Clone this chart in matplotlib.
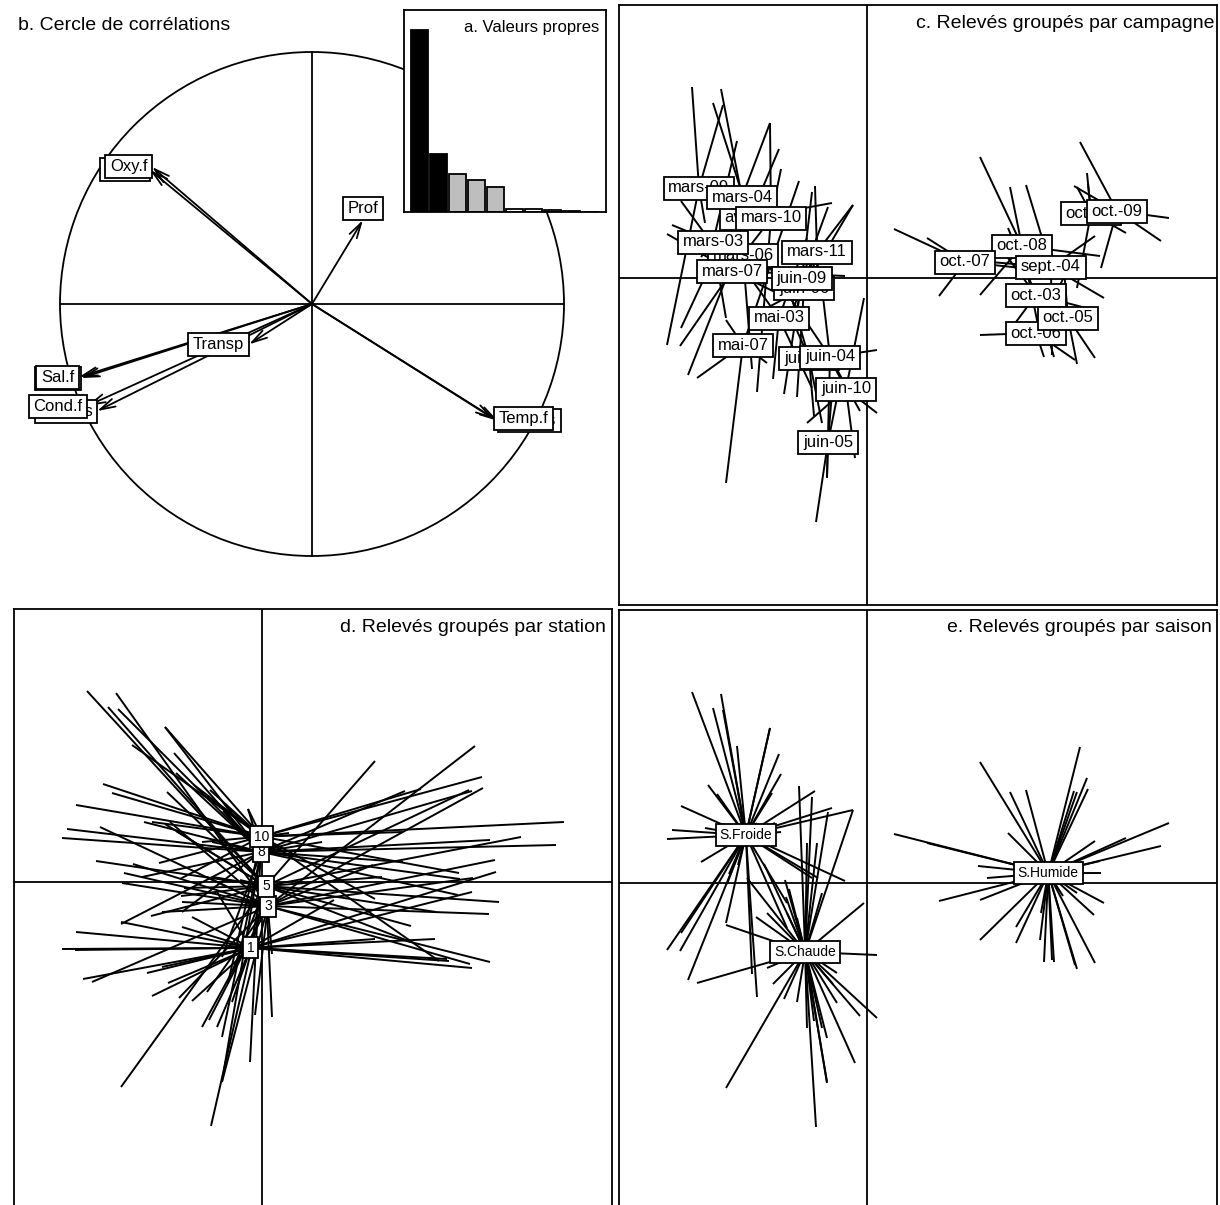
#!/usr/bin/env python3
"""
ACP des releves physico-chimiques : valeurs propres, cercle de correlations
et releves groupes par campagne, par station et par saison (style ade4)
"""

import matplotlib
matplotlib.use('Agg')
import matplotlib.pyplot as plt
from matplotlib.patches import Rectangle, Circle
from matplotlib.collections import LineCollection
import numpy as np

plt.rcParams['font.family'] = ['Liberation Sans', 'DejaVu Sans']

# a. valeurs propres
eigenvalues = [5.30, 1.69, 1.11, 0.93, 0.73, 0.087, 0.087, 0.044, 0.015, 0.009]
eigen_colors = ['black'] * 2 + ['#bebebe'] * 3 + ['white'] * 5

# b. cercle de correlations (ordre de trace : les .s sous les .f)
var_names = ['Prof', 'Transp', 'Temp.s', 'Temp.f', 'Sal.s', 'Sal.f',
             'Cond.s', 'Cond.f', 'Oxy.s', 'Oxy.f']
var_ax1 = [0.202, -0.250, 0.738, 0.722, -0.917, -0.925, -0.853, -0.893, -0.643, -0.635]
var_ax2 = [0.333, -0.160, -0.464, -0.456, -0.294, -0.290, -0.425, -0.405, 0.532, 0.544]

# c/d/e. scores des releves : une ligne par campagne, une colonne par station
stations = ['1', '3', '5', '8', '10']
campaigns = ['mars-09', 'avr.-08', 'mars-06', 'mars-04', 'mars-10', 'mars-03',
             'mars-07', 'mars-11', 'juin-06', 'juin-09', 'mai-03', 'mai-07',
             'juin-08', 'juin-04', 'juin-10', 'juin-05', 'oct.-08', 'oct.-07',
             'sept.-04', 'oct.-10', 'oct.-09', 'oct.-03', 'oct.-06', 'oct.-05']
campaign_season = ['S.Froide'] * 8 + ['S.Chaude'] * 8 + ['S.Humide'] * 8
seasons = ['S.Chaude', 'S.Froide', 'S.Humide']

score_x = [
    [-2.00, -1.62, -1.75, -1.44, -1.59],
    [-1.79, -1.29, -1.54, -0.88, -0.35],
    [-1.15, -1.40, -0.97, -1.18, -1.50],
    [-1.86, -1.46, -0.86, -0.97, -1.10],
    [-1.10, -0.92, -0.95, -0.86, -0.97],
    [-1.41, -1.38, -1.66, -1.95, -1.30],
    [-1.87, -0.80, -0.22, -2.00, -1.86],
    [-0.80, -0.55, -0.49, -0.14, -0.52],
    [-0.70, -1.00, -0.81, -0.50, -0.14],
    [-0.70, -0.83, -0.78, -0.39, -0.55],
    [-0.94, -0.55, -1.11, -1.20, -0.60],
    [-1.00, -1.70, -1.41, -1.41, -0.68],
    [-0.45, -0.53, -0.30, -0.80, -0.82],
    [-0.45, -0.07, 0.10, -0.40, -1.03],
    [-0.03, -0.60, 0.10, -0.40, -0.12],
    [-0.30, -0.40, -0.51, -0.40, -0.34],
    [1.73, 2.33, 1.13, 1.43, 1.13],
    [0.72, 2.11, 1.20, 0.60, 0.27],
    [1.85, 1.11, 2.37, 2.28, 1.59],
    [2.10, 2.21, 2.59, 2.10, 2.20],
    [2.34, 2.13, 2.07, 2.94, 3.02],
    [1.87, 2.27, 1.49, 1.41, 1.41],
    [1.13, 2.08, 1.49, 1.98, 1.77],
    [2.10, 2.28, 1.74, 1.96, 1.97],
]
score_y = [
    [-0.67, 0.55, 1.91, 1.73, 0.98],
    [-0.97, 0.18, 1.75, 1.29, 0.75],
    [-0.91, -0.01, 0.58, 0.60, 0.89],
    [-0.50, 1.89, 0.51, 1.55, 0.60],
    [-1.14, 0.60, 0.90, 1.09, 1.55],
    [-0.40, 0.09, 0.21, 0.53, 1.37],
    [-0.68, -0.20, 0.02, 0.44, 0.77],
    [-0.45, 0.05, 0.05, 0.73, 0.92],
    [-1.19, -0.30, -0.14, 0.40, 0.73],
    [-0.35, -1.16, -0.06, 0.71, 0.86],
    [-1.01, -1.10, -0.34, 0.05, 0.40],
    [-0.85, -1.00, -2.05, -0.42, 0.97],
    [-1.45, -1.38, -0.90, -0.30, 0.03],
    [-0.10, -1.33, -0.72, -1.99, 0.19],
    [-0.20, -1.45, -1.35, -0.75, -1.80],
    [-1.20, -2.00, -2.44, -1.55, -1.01],
    [-0.57, 0.22, 1.21, 0.91, -0.17],
    [-0.18, 0.04, 0.05, 0.40, 0.49],
    [-0.77, 0.17, -0.20, 0.42, 0.93],
    [-0.10, 0.94, 0.45, 0.91, 1.05],
    [0.10, 1.36, 0.92, 0.37, 0.60],
    [-0.79, -0.32, -0.44, 0.20, 0.50],
    [-0.57, -0.82, -0.60, 0.03, -0.79],
    [-0.86, -0.80, -0.30, -0.13, 0.09],
]

LW = 1.3

W, H = 1220, 1205
fig = plt.figure(figsize=(W / 100, H / 100), dpi=100)
renderer = fig.canvas.get_renderer()


def px_axes(x0, y0, x1, y1):
    # pixel box, origin top-left
    return fig.add_axes([x0 / W, 1 - y1 / H, (x1 - x0) / W, (y1 - y0) / H])


def boxed_label(ax, x, y, s, size, box_h, scale, z, anchor='center'):
    t = ax.text(x, y, s, fontsize=size, ha='center', va='center', zorder=z + 1)
    w = t.get_window_extent(renderer).width + 2 * 0.278 * size * 100 / 72
    wu, hu = w / scale, box_h / scale
    cx, cy = x, y
    if anchor == 'left':
        cx = x + wu / 2
    elif anchor == 'right':
        cx = x - wu / 2
    elif anchor == 'above':
        cy = y + hu / 2
    elif anchor == 'below':
        cy = y - hu / 2
    t.set_position((cx, cy))
    ax.add_patch(Rectangle((cx - wu / 2, cy - hu / 2), wu, hu, facecolor='white',
                           edgecolor='black', lw=LW, zorder=z))


# ---------- b. Cercle de correlations
R = 252.0
ax_b = px_axes(0, 0, 614, 608)
ax_b.set_xlim((0 - 312) / R, (614 - 312) / R)
ax_b.set_ylim((304 - 608) / R, (304 - 0) / R)
ax_b.axis('off')
ax_b.add_patch(Circle((0, 0), 1, fill=False, lw=LW, color='black'))
ax_b.plot([-1, 1], [0, 0], color='black', lw=LW)
ax_b.plot([0, 0], [-1, 1], color='black', lw=LW)
for x, y in zip(var_ax1, var_ax2):
    ax_b.annotate('', xy=(x, y), xytext=(0, 0),
                  arrowprops=dict(arrowstyle='->,head_length=1.1,head_width=0.3',
                                  lw=LW, color='black', shrinkA=0, shrinkB=0))
for i, (name, x, y) in enumerate(zip(var_names, var_ax1, var_ax2)):
    if x > y and x > -y:
        anchor = 'left'
    elif x > y:
        anchor = 'below'
    elif x <= -y:
        anchor = 'right'
    else:
        anchor = 'above'
    boxed_label(ax_b, x, y, name, 12, 23, R, 10 + 2 * i, anchor)
fig.text(18 / W, 1 - 25 / H, 'b. Cercle de corrélations', fontsize=14,
         ha='left', va='center')

# ---------- a. Valeurs propres (encart)
ax_a = px_axes(404, 10, 606, 212)
ax_a.set_facecolor('white')
ax_a.bar(range(len(eigenvalues)), eigenvalues, width=0.89, color=eigen_colors,
         edgecolor='black', lw=LW)
ax_a.set_xlim(-0.816, 9.82)
ax_a.set_ylim(0, eigenvalues[0] * 202 / 182)
ax_a.set_xticks([])
ax_a.set_yticks([])
for sp in ax_a.spines.values():
    sp.set_linewidth(LW)
ax_a.text(0.965, 0.915, 'a. Valeurs propres', transform=ax_a.transAxes,
          fontsize=12, ha='right', va='center')

# ---------- c/d/e. etoiles de releves
sx = np.array(score_x)
sy = np.array(score_y)
XLIM = (-2.48, 3.50)
YLIM = (-3.27, 2.73)


def star_panel(box, groups, size, box_h, title, title_xy):
    ax = px_axes(*box)
    ax.set_xlim(*XLIM)
    ax.set_ylim(*YLIM)
    ax.set_xticks([])
    ax.set_yticks([])
    for sp in ax.spines.values():
        sp.set_linewidth(LW)
    ax.axhline(0, color='black', lw=LW, zorder=1)
    ax.axvline(0, color='black', lw=LW, zorder=1)
    segs = []
    cents = []
    for name, xs, ys in groups:
        cx, cy = np.mean(xs), np.mean(ys)
        cents.append((name, cx, cy))
        segs += [[(cx, cy), (px, py)] for px, py in zip(xs, ys)]
    ax.add_collection(LineCollection(segs, colors='black', linewidths=1.4, zorder=2))
    for i, (name, cx, cy) in enumerate(cents):
        boxed_label(ax, cx, cy, name, size, box_h, 100.0, 10 + 2 * i)
    fig.text(title_xy[0] / W, 1 - title_xy[1] / H, title, fontsize=14,
             ha='right', va='center', zorder=50)
    return ax


groups_c = [(c, sx[i], sy[i]) for i, c in enumerate(campaigns)]
star_panel((619, 5, 1217, 605), groups_c, 12, 23,
           'c. Relevés groupés par campagne', (1214, 23))

groups_d = [(s, sx[:, j], sy[:, j]) for j, s in enumerate(stations)]
star_panel((14, 609, 612, 1209), groups_d, 10, 21,
           'd. Relevés groupés par station', (606, 627))

season_arr = np.array(campaign_season)
groups_e = [(s, sx[season_arr == s].ravel(), sy[season_arr == s].ravel()) for s in seasons]
star_panel((619, 610, 1217, 1210), groups_e, 10, 22,
           'e. Relevés groupés par saison', (1212, 628))

fig.savefig('out.png', dpi=100)
